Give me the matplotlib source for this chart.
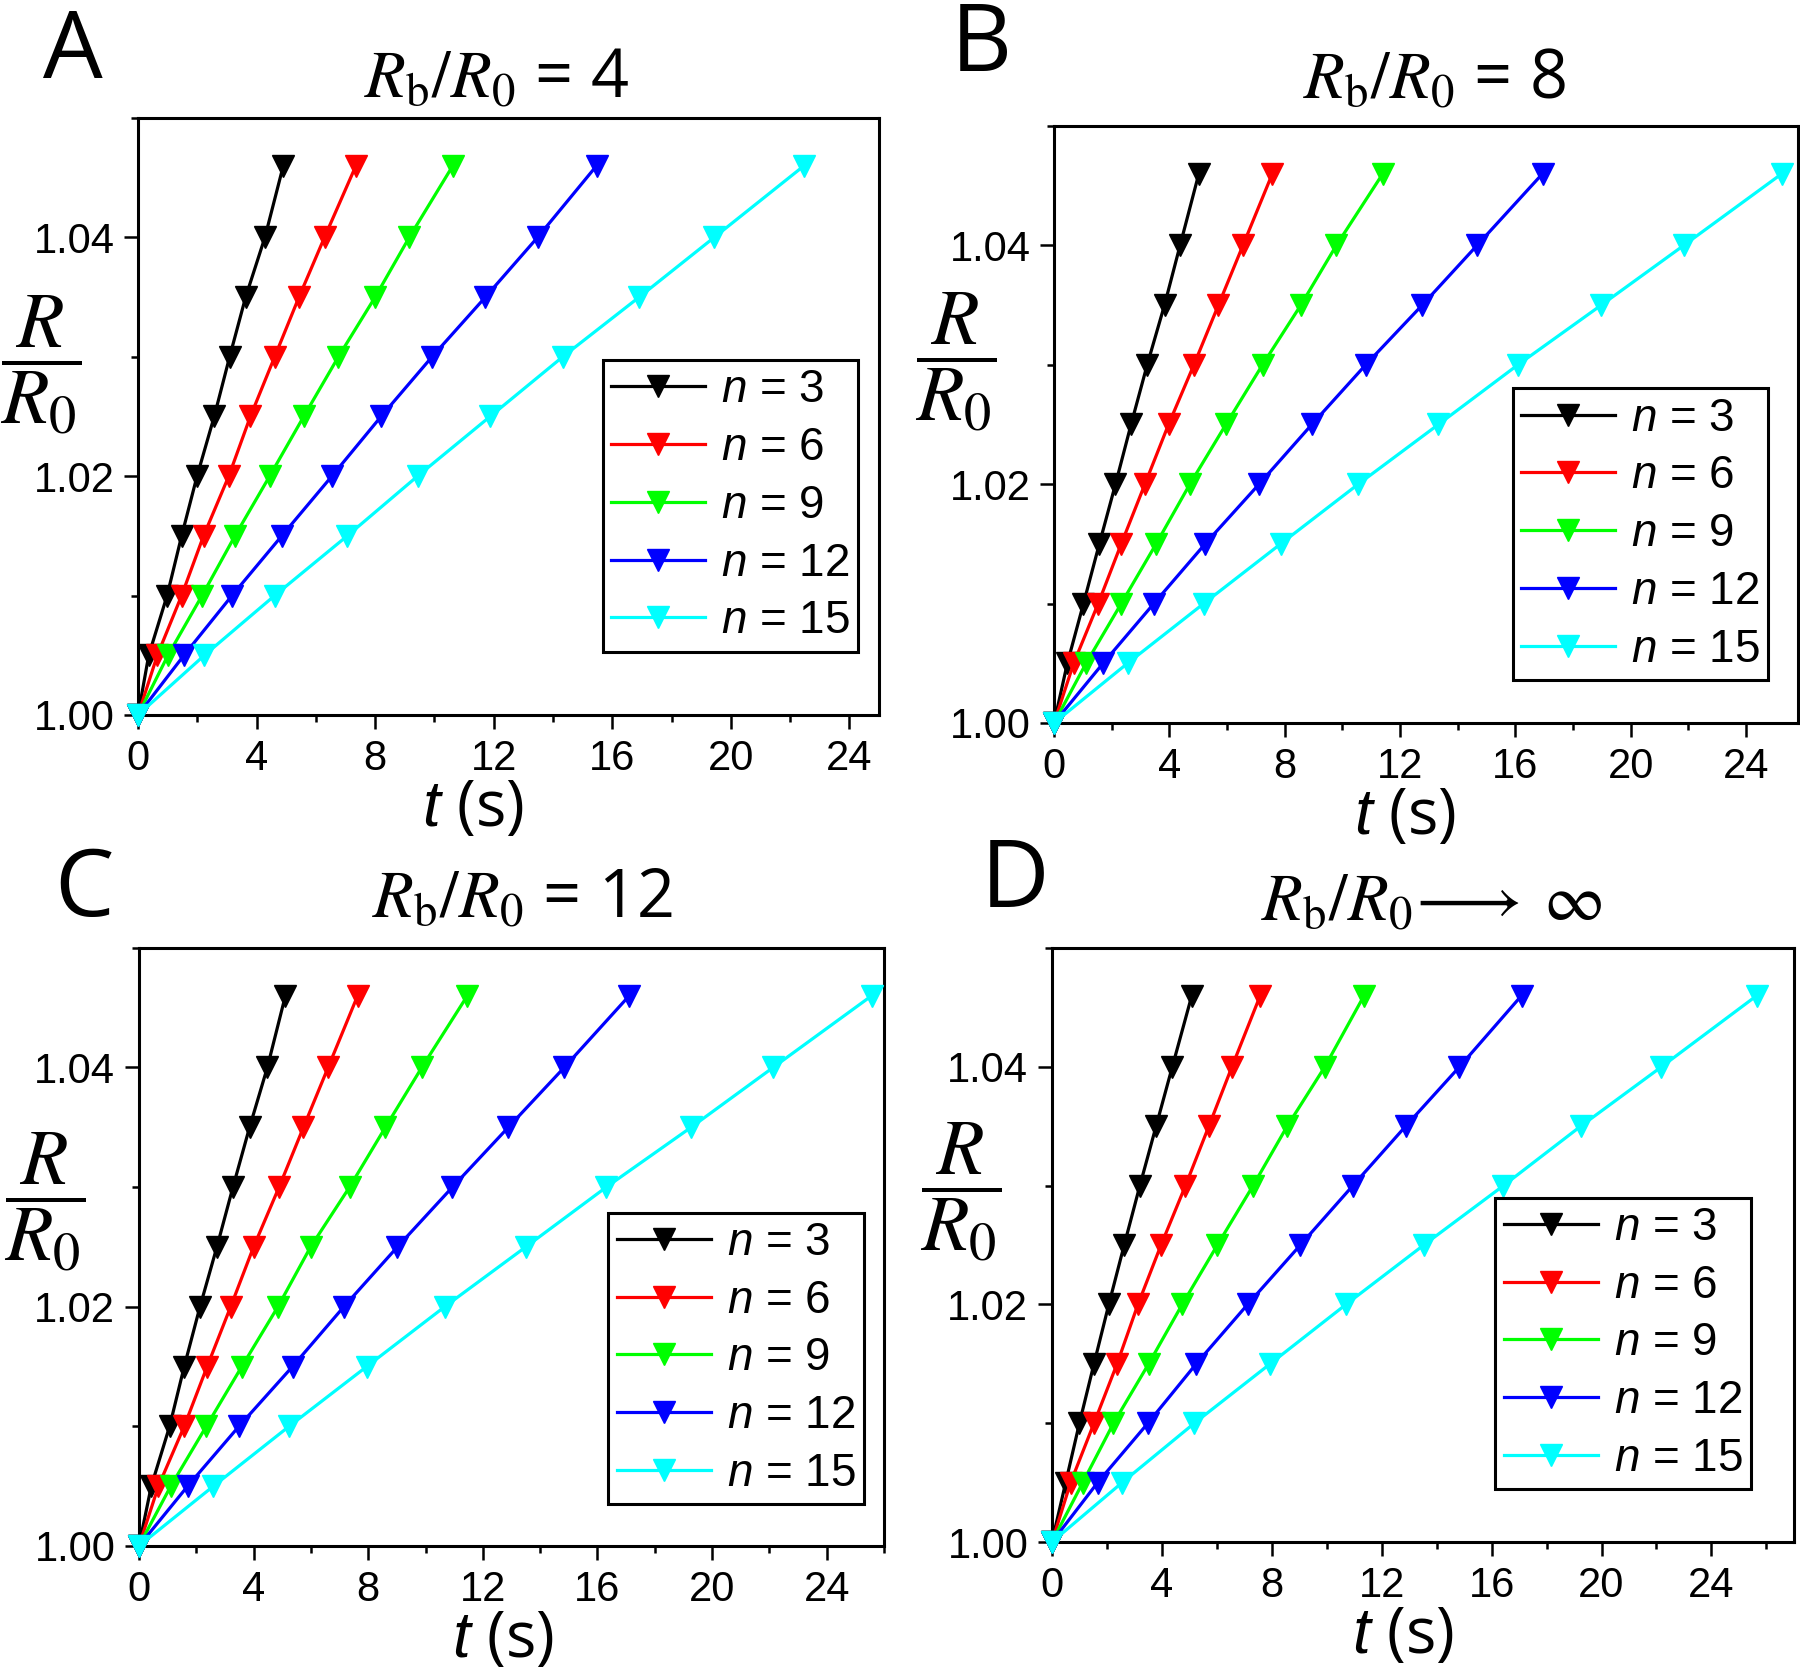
import matplotlib
matplotlib.use('Agg')
import matplotlib.pyplot as plt
from matplotlib.ticker import MultipleLocator, FormatStrFormatter

plt.rcParams['font.family'] = ['Liberation Sans', 'DejaVu Sans']
plt.rcParams['mathtext.fontset'] = 'custom'
plt.rcParams['mathtext.it'] = 'Liberation Sans:italic'
plt.rcParams['mathtext.rm'] = 'Liberation Sans'
plt.rcParams['mathtext.bf'] = 'Liberation Sans:bold'
plt.rcParams['mathtext.sf'] = 'Liberation Sans'

# ---------------- data ----------------
R_over_R0 = [1.000, 1.005, 1.010, 1.015, 1.020, 1.025, 1.030, 1.035, 1.040, 1.046]
n_values = [3, 6, 9, 12, 15]

# panel A : Rb/R0 = 4
t_A = [
    [0, 0.36, 0.98, 1.47, 1.99, 2.57, 3.09, 3.63, 4.28, 4.90],
    [0, 0.65, 1.47, 2.21, 3.06, 3.79, 4.61, 5.43, 6.29, 7.35],
    [0, 1.01, 2.16, 3.27, 4.44, 5.59, 6.76, 8.00, 9.15, 10.62],
    [0, 1.55, 3.17, 4.85, 6.54, 8.20, 9.92, 11.72, 13.48, 15.47],
    [0, 2.24, 4.61, 7.06, 9.43, 11.88, 14.33, 16.91, 19.44, 22.47],
]
# panel B : Rb/R0 = 8
t_B = [
    [0, 0.46, 1.02, 1.57, 2.13, 2.67, 3.23, 3.83, 4.37, 5.02],
    [0, 0.68, 1.53, 2.33, 3.15, 3.97, 4.85, 5.70, 6.55, 7.57],
    [0, 1.11, 2.33, 3.54, 4.71, 5.96, 7.23, 8.56, 9.79, 11.40],
    [0, 1.70, 3.46, 5.24, 7.11, 8.94, 10.81, 12.77, 14.67, 16.94],
    [0, 2.55, 5.19, 7.86, 10.55, 13.33, 16.09, 18.98, 21.84, 25.24],
]
# panel C : Rb/R0 = 12
t_C = [
    [0, 0.43, 1.07, 1.58, 2.13, 2.72, 3.28, 3.86, 4.48, 5.11],
    [0, 0.68, 1.58, 2.38, 3.20, 4.00, 4.89, 5.74, 6.60, 7.63],
    [0, 1.11, 2.35, 3.59, 4.85, 5.99, 7.35, 8.60, 9.87, 11.46],
    [0, 1.70, 3.49, 5.36, 7.15, 9.02, 10.94, 12.89, 14.84, 17.11],
    [0, 2.60, 5.24, 7.95, 10.67, 13.50, 16.31, 19.27, 22.13, 25.57],
]
# panel D : Rb/R0 -> infinity
t_D = [
    [0, 0.50, 1.00, 1.53, 2.07, 2.63, 3.20, 3.79, 4.38, 5.09],
    [0, 0.68, 1.53, 2.37, 3.13, 3.97, 4.86, 5.71, 6.55, 7.58],
    [0, 1.12, 2.24, 3.52, 4.74, 6.02, 7.32, 8.56, 9.93, 11.36],
    [0, 1.66, 3.49, 5.25, 7.12, 9.04, 10.95, 12.87, 14.83, 17.09],
    [0, 2.55, 5.18, 7.94, 10.70, 13.53, 16.43, 19.24, 22.18, 25.65],
]

panel_letters = ['A', 'B', 'C', 'D']
panel_titles = [r'$R_\mathrm{b}/R_0$ = 4', r'$R_\mathrm{b}/R_0$ = 8',
                r'$R_\mathrm{b}/R_0$ = 12', r'$R_\mathrm{b}/R_0\!\longrightarrow\;\infty$']
x_ticks = [0, 4, 8, 12, 16, 20, 24]
y_ticks = [1.00, 1.02, 1.04]

# ---------------- styling / layout ----------------
series_colors = ['#000000', '#FF0000', '#00FF00', '#0000FF', '#00FFFF']
axes_rects = [
    [0.0767, 0.5719, 0.4117, 0.3575],
    [0.5856, 0.5671, 0.4133, 0.3575],
    [0.0772, 0.0743, 0.4139, 0.3581],
    [0.5844, 0.0766, 0.4122, 0.3557],
]
x_max = [25.0, 25.8, 26.0, 27.0]
legend_anchor = [(0.972, 0.106), (0.960, 0.072), (0.973, 0.070), (0.942, 0.089)]
ylabel_pos = [(-0.131, 0.585), (-0.132, 0.603), (-0.126, 0.574), (-0.123, 0.588)]
xlabel_x = [0.452, 0.472, 0.488, 0.473]
title_pos = [(0.2756, 0.9419), (0.797, 0.9413), (0.290, 0.4503), (0.7956, 0.4490)]
letter_pos = [(0.0239, 0.9533), (0.528, 0.9575), (0.030, 0.4515), (0.545, 0.4569)]

all_t = [t_A, t_B, t_C, t_D]

fig = plt.figure(figsize=(18, 16.7), dpi=100)

for i in range(4):
    ax = fig.add_axes(axes_rects[i])
    for t, n, c in zip(all_t[i], n_values, series_colors):
        ax.plot(t, R_over_R0, '-', color=c, lw=2.3, marker='v', ms=16,
                mec=c, mfc=c, clip_on=False, zorder=3, label=f'$n$ = {n}')
    ax.set_xlim(0, x_max[i])
    ax.set_ylim(1.0, 1.05)
    ax.set_xticks(x_ticks)
    ax.set_yticks(y_ticks)
    ax.xaxis.set_minor_locator(MultipleLocator(2))
    ax.yaxis.set_minor_locator(MultipleLocator(0.01))
    ax.yaxis.set_major_formatter(FormatStrFormatter('%.2f'))
    ax.tick_params(which='both', direction='out', top=False, right=False,
                   width=1.8, labelsize=30, pad=7)
    ax.tick_params(which='major', length=10)
    ax.tick_params(which='minor', length=5)
    for sp in ax.spines.values():
        sp.set_linewidth(2.2)

    leg = ax.legend(loc='lower right', bbox_to_anchor=legend_anchor[i],
                    borderaxespad=0, fontsize=33, numpoints=1,
                    handlelength=2.05, handletextpad=0.35, labelspacing=0.3,
                    borderpad=0.18, fancybox=False, framealpha=1,
                    edgecolor='black')
    leg.get_frame().set_linewidth(2.2)

    ax.set_xlabel(r'$t$ (s)', fontsize=46, family='Open Sans')
    ax.xaxis.label.set_math_fontfamily('custom')
    ax.xaxis.set_label_coords(xlabel_x[i], -0.104)
    ax.xaxis.label.set_va('top')

    ax.set_ylabel(r'$\dfrac{R}{R_0}$', fontsize=56, rotation=0,
                  math_fontfamily='stix', va='center', ha='center')
    ax.yaxis.set_label_coords(*ylabel_pos[i])

    fig.text(title_pos[i][0], title_pos[i][1], panel_titles[i], fontsize=48,
             family='Open Sans', math_fontfamily='stix', ha='center', va='baseline')
    fig.text(letter_pos[i][0], letter_pos[i][1], panel_letters[i], fontsize=68,
             family='Open Sans', ha='left', va='baseline')

fig.savefig('out.png', dpi=100)
